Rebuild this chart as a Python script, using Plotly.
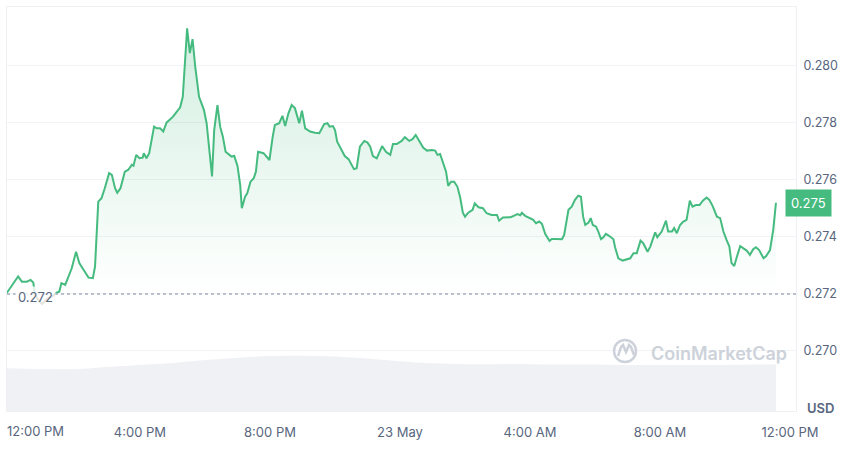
import pandas as pd
import plotly.graph_objects as go

# ---------------- data ----------------
OPEN_TIME = pd.Timestamp("2023-05-22 12:00:00")
OPEN_PRICE = 0.272

price_minutes = [
    -6, 6, 15, 22, 31, 38, 43, 46, 52, 59, 68, 79, 83, 85, 91, 95, 102, 108, 114, 122,
    128, 134, 140, 145, 153, 157, 163, 169, 175, 183, 188, 194, 198, 204, 212, 218, 225, 228, 233, 239,
    245, 247, 252, 257, 266, 271, 277, 283, 289, 297, 301, 308, 314, 319, 323, 327, 332, 337, 342, 349,
    358, 363, 368, 373, 377, 383, 388, 393, 398, 403, 409, 414, 420, 425, 428, 434, 438, 444, 450, 454,
    458, 468, 474, 479, 485, 489, 497, 503, 508, 514, 520, 526, 534, 539, 545, 554, 563, 571, 575, 580,
    586, 590, 596, 600, 604, 612, 618, 625, 631, 635, 640, 646, 654, 660, 665, 670, 677, 682, 687, 694,
    702, 707, 714, 723, 729, 737, 743, 749, 756, 763, 770, 779, 785, 789, 794, 800, 805, 809, 814, 820,
    826, 831, 836, 840, 846, 854, 858, 865, 873, 880, 889, 899, 903, 910, 917, 924, 930, 937, 942, 945,
    951, 959, 966, 971, 977, 982, 988, 996, 1000, 1009, 1019, 1023, 1027, 1031, 1037, 1043, 1049, 1054, 1058, 1062,
    1068, 1072, 1076, 1082, 1086, 1091, 1095, 1100, 1106, 1114, 1117, 1123, 1131, 1139, 1145, 1151, 1157, 1164, 1169, 1177,
    1182, 1191, 1195, 1203, 1211, 1215, 1222, 1226, 1231, 1237, 1243, 1249, 1255, 1260, 1266, 1273, 1279, 1286, 1291, 1297,
    1305, 1311, 1317, 1323, 1328, 1332, 1337, 1342, 1348, 1354, 1360, 1366, 1372, 1377, 1383, 1391, 1396, 1403, 1409, 1414,
]
price_usd = [
    0.27203, 0.27235, 0.27261, 0.27243, 0.27243, 0.27249, 0.27240, 0.27200, 0.27179, 0.27165, 0.27182, 0.27193, 0.27200, 0.27204, 0.27208, 0.27238, 0.27232, 0.27261, 0.27290, 0.27348,
    0.27308, 0.27290, 0.27273, 0.27257, 0.27255, 0.27296, 0.27524, 0.27536, 0.27571, 0.27624, 0.27618, 0.27571, 0.27555, 0.27571, 0.27629, 0.27635, 0.27653, 0.27650, 0.27688, 0.27676,
    0.27678, 0.27694, 0.27676, 0.27694, 0.27787, 0.27781, 0.27781, 0.27770, 0.27801, 0.27813, 0.27822, 0.27840, 0.27854, 0.27892, 0.27998, 0.28132, 0.28045, 0.28094, 0.27998, 0.27892,
    0.27846, 0.27799, 0.27705, 0.27612, 0.27775, 0.27863, 0.27787, 0.27752, 0.27699, 0.27691, 0.27682, 0.27684, 0.27649, 0.27582, 0.27501, 0.27541, 0.27553, 0.27594, 0.27606, 0.27629,
    0.27699, 0.27694, 0.27682, 0.27670, 0.27752, 0.27793, 0.27799, 0.27825, 0.27789, 0.27834, 0.27863, 0.27852, 0.27799, 0.27843, 0.27781, 0.27770, 0.27766, 0.27764, 0.27778, 0.27796,
    0.27799, 0.27787, 0.27789, 0.27775, 0.27734, 0.27705, 0.27684, 0.27673, 0.27653, 0.27638, 0.27641, 0.27717, 0.27737, 0.27731, 0.27717, 0.27684, 0.27676, 0.27696, 0.27719, 0.27699,
    0.27688, 0.27726, 0.27726, 0.27737, 0.27750, 0.27737, 0.27743, 0.27758, 0.27734, 0.27713, 0.27703, 0.27705, 0.27703, 0.27688, 0.27691, 0.27659, 0.27629, 0.27579, 0.27594, 0.27594,
    0.27576, 0.27539, 0.27485, 0.27471, 0.27485, 0.27495, 0.27518, 0.27504, 0.27501, 0.27483, 0.27477, 0.27477, 0.27457, 0.27468, 0.27468, 0.27469, 0.27474, 0.27480, 0.27476, 0.27485,
    0.27474, 0.27468, 0.27460, 0.27448, 0.27454, 0.27446, 0.27411, 0.27386, 0.27393, 0.27393, 0.27392, 0.27407, 0.27454, 0.27495, 0.27506, 0.27530, 0.27545, 0.27541, 0.27471, 0.27442,
    0.27450, 0.27466, 0.27442, 0.27436, 0.27419, 0.27392, 0.27398, 0.27411, 0.27404, 0.27392, 0.27364, 0.27325, 0.27317, 0.27322, 0.27325, 0.27343, 0.27343, 0.27387, 0.27378, 0.27348,
    0.27366, 0.27416, 0.27399, 0.27419, 0.27457, 0.27419, 0.27419, 0.27431, 0.27413, 0.27442, 0.27454, 0.27460, 0.27527, 0.27506, 0.27512, 0.27512, 0.27527, 0.27538, 0.27530, 0.27509,
    0.27471, 0.27466, 0.27419, 0.27389, 0.27366, 0.27308, 0.27298, 0.27331, 0.27368, 0.27360, 0.27352, 0.27337, 0.27357, 0.27364, 0.27354, 0.27325, 0.27333, 0.27354, 0.27425, 0.27520,
]

volume_minutes = [-6, 60, 120, 180, 240, 300, 360, 420, 480, 540, 600, 660, 720,
                  780, 840, 900, 960, 1020, 1080, 1140, 1200, 1260, 1320, 1380, 1414]
volume_rel = [10.6, 10.4, 10.4, 10.9, 11.4, 11.9, 12.6, 13.2, 13.6, 13.7, 13.5, 13.0, 12.3,
              11.8, 11.6, 11.6, 11.6, 11.5, 11.5, 11.4, 11.4, 11.4, 11.4, 11.5, 11.6]

x_tick_hours = [4, 8, 12, 16, 20, 24]
x_tick_labels = ["4:00 PM", "8:00 PM", "23 May", "4:00 AM", "8:00 AM", "12:00 PM"]
first_tick_label = "12:00 PM"
y_tick_values = [0.270, 0.272, 0.274, 0.276, 0.278, 0.280]

# ---------------- styling ----------------
GREEN = "#45bb7f"
RED = "rgba(234,57,67,0.45)"
GRAY_TEXT = "#58667e"
WM = "#cdd2da"
FONT = "Inter"

t_price = [OPEN_TIME + pd.Timedelta(minutes=m) for m in price_minutes]
t_vol = [OPEN_TIME + pd.Timedelta(minutes=m) for m in volume_minutes]

below_idx = [i for i, p in enumerate(price_usd) if p <= OPEN_PRICE]
red_x = [t_price[i] for i in below_idx]
red_y = [price_usd[i] for i in below_idx]

fig = go.Figure()
fig.add_trace(go.Scatter(
    x=t_vol, y=volume_rel, yaxis="y2", mode="lines",
    line=dict(width=0, shape="spline", color="#eff1f4"),
    fill="tozeroy", fillcolor="#eff1f4", hoverinfo="skip", showlegend=False))
fig.add_trace(go.Scatter(
    x=t_price, y=price_usd, mode="lines",
    line=dict(color=GREEN, width=2),
    fill="tozeroy",
    fillgradient=dict(type="vertical", start=OPEN_PRICE, stop=max(price_usd),
                      colorscale=[[0, "rgba(69,187,127,0)"], [1, "rgba(69,187,127,0.24)"]]),
    showlegend=False))
fig.add_trace(go.Scatter(
    x=red_x, y=red_y, mode="lines", line=dict(color=RED, width=2), showlegend=False))

x_start = OPEN_TIME - pd.Timedelta(minutes=5.5)
x_end = OPEN_TIME + pd.Timedelta(minutes=1451)

fig.update_layout(
    width=860, height=451,
    margin=dict(l=7, r=64, t=7, b=40),
    paper_bgcolor="white", plot_bgcolor="white",
    font=dict(family=FONT, color=GRAY_TEXT),
    showlegend=False,
    xaxis=dict(
        type="date", range=[x_start, x_end],
        tickvals=[OPEN_TIME + pd.Timedelta(hours=h) for h in x_tick_hours],
        ticktext=x_tick_labels,
        showgrid=False, zeroline=False,
        showline=True, mirror=True, linecolor="#eef0f3", linewidth=1,
        ticks="", ticklabelstandoff=9,
        tickfont=dict(size=13, color=GRAY_TEXT, family=FONT),
    ),
    yaxis=dict(
        range=[0.26789, 0.28207], side="right",
        tickvals=y_tick_values, tickformat=".3f",
        showgrid=True, gridcolor="#f1f3f6", gridwidth=1, zeroline=False,
        showline=True, mirror=True, linecolor="#eef0f3", linewidth=1,
        ticks="", ticklabelstandoff=4,
        tickfont=dict(size=12.5, color=GRAY_TEXT, family=FONT),
    ),
    yaxis2=dict(overlaying="y", range=[0, 100], visible=False),
)

fig.add_shape(type="line", xref="paper", x0=0, x1=1, yref="y", y0=OPEN_PRICE, y1=OPEN_PRICE,
              line=dict(color="#a6afbd", width=1.5, dash="dot"), layer="above")

# watermark logo
fig.add_shape(type="circle", xref="paper", yref="paper", xsizemode="pixel", ysizemode="pixel",
              xanchor=0.7833, yanchor=0.1485, x0=-11, x1=11, y0=-11, y1=11,
              line=dict(color=WM, width=2.5), layer="above")
fig.add_shape(type="path", xref="paper", yref="paper", xsizemode="pixel", ysizemode="pixel",
              xanchor=0.7833, yanchor=0.1485,
              path="M -7,-5 L -4,4 L -2,6 L 1,-1 L 4,6 L 6,4 L 9,-4",
              line=dict(color=WM, width=2.5), layer="above")

fig.add_annotation(text="CoinMarketCap", xref="paper", yref="paper", x=0.8137, y=0.1411,
                   xanchor="left", yanchor="middle", showarrow=False,
                   font=dict(size=18, color=WM, family=FONT, weight=600))

fig.add_annotation(text=first_tick_label, xref="x", yref="paper", x=OPEN_TIME, y=0,
                   xanchor="left", yanchor="top", yshift=-10, xshift=-5, showarrow=False,
                   font=dict(size=13, color=GRAY_TEXT, family=FONT))

fig.add_annotation(text=f"{OPEN_PRICE:.3f}", xref="paper", yref="y", x=0.0101, y=OPEN_PRICE,
                   xanchor="left", yanchor="middle", yshift=-3, showarrow=False,
                   bgcolor="rgba(255,255,255,0.8)", borderpad=2,
                   font=dict(size=13, color=GRAY_TEXT, family=FONT))

fig.add_annotation(text=f"{price_usd[-1]:.3f}", xref="paper", yref="y", x=0.986, y=price_usd[-1],
                   xanchor="left", yanchor="middle", showarrow=False,
                   bgcolor=GREEN, borderpad=5,
                   font=dict(size=13, color="white", family=FONT))

fig.add_annotation(text="USD", xref="paper", yref="paper", x=1.031, y=0.0074,
                   xanchor="center", yanchor="middle", showarrow=False,
                   font=dict(size=13, color=GRAY_TEXT, family=FONT, weight=600))

fig.write_html("out.html",
               config={"displayModeBar": False},
               post_script="document.body.style.margin='0';document.body.style.padding='0';")
